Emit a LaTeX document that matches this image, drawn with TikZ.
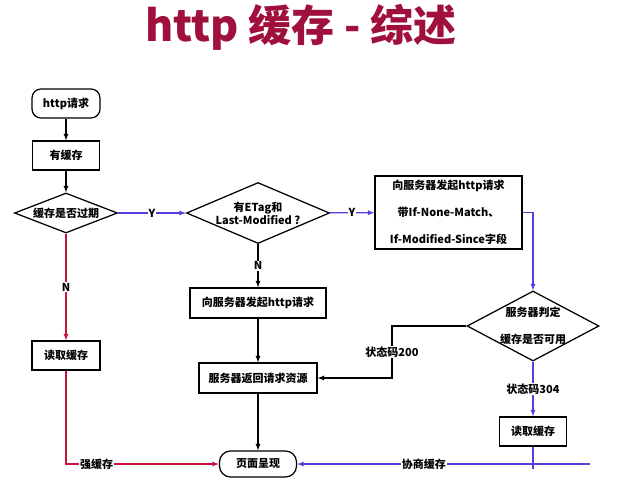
\documentclass[tikz,border=0pt]{standalone}
\usepackage{fontspec}
\setmainfont{Noto Sans CJK SC}
\usetikzlibrary{shapes.geometric}
\definecolor{titlered}{HTML}{A0103C}
\definecolor{strongred}{HTML}{C8143C}
\definecolor{negblue}{HTML}{5540DD}

\begin{document}
\begin{tikzpicture}[x=1pt, y=-1pt, line width=1.25pt,
    font=\fontsize{11}{13}\selectfont\bfseries,
    box/.style={draw, rectangle, fill=white, inner sep=0pt},
    term/.style={draw, rectangle, rounded corners=9pt, fill=white, inner sep=0pt},
    choice/.style={draw, diamond, fill=white, inner sep=0pt},
    lbl/.style={fill=white, text=black, inner sep=1pt}]
    \useasboundingbox (0,0) rectangle (629,490);
    \draw
    (301,27)node(title)[text=titlered, font=\fontsize{43}{43}\selectfont\bfseries]{http 缓存 - 综述}
    (66,103.5)node(req)[term, minimum width=68pt, minimum height=29pt]{http请求}
    (66,155.5)node(has)[box, minimum width=67pt, minimum height=29pt]{有缓存}
    (66,213)node(exp)[choice, aspect=2.6, minimum width=103pt, minimum height=40pt]{缓存是否过期}
    (66,355.5)node(read1)[box, minimum width=68pt, minimum height=29pt]{读取缓存}
    (258,213)node(etag)[choice, aspect=2.3, align=center, minimum width=143pt, minimum height=61pt]{有ETag和\\Last-Modified ?}
    (258,303)node(send)[box, minimum width=136pt, minimum height=30pt]{向服务器发起http请求}
    (258,378)node(ret)[box, minimum width=118pt, minimum height=30pt]{服务器返回请求资源}
    (258,464)node(page)[term, rounded corners=11pt, minimum width=77pt, minimum height=26pt]{页面呈现}
    (448.5,212.5)node(ask)[box, align=center, minimum width=147pt, minimum height=73pt]{向服务器发起http请求\\[14pt]带If-None-Match、\\[14pt]If-Modified-Since字段}
    (533,326)node(judge)[choice, aspect=1.9, inner sep=-4pt, align=center, minimum width=132pt, minimum height=70pt]{服务器判定\\[14pt]缓存是否可用}
    (533,431.5)node(read2)[box, minimum width=67pt, minimum height=29pt]{读取缓存};
    \coordinate (c200) at (392,326);
    \coordinate (tail) at (590,464);
    %
    \draw [-latex](req)--(has);
    \draw [-latex](has)--(exp);
    \draw [-latex, strongred](exp)--node[lbl]{N}(read1);
    \draw [-latex, strongred](read1)|-node[lbl, pos=0.6]{强缓存}(page);
    \draw [-latex, negblue](exp)--node[lbl]{Y}(etag);
    \draw [-latex](etag)--node[lbl]{N}(send);
    \draw [-latex](send)--(ret);
    \draw [-latex](ret)--(page);
    \draw [-latex, negblue](etag)--node[lbl]{Y}(ask);
    \draw [-latex, negblue](ask.east)-|(judge.north);
    \draw [-latex](judge.west)--(c200)|-node[lbl, pos=0.25]{状态码200}(ret);
    \draw [-latex, negblue](judge)--node[lbl]{状态码304}(read2);
    \draw [negblue](read2.south)--++(0,22);
    \draw [-latex, negblue](tail)--node[lbl, pos=0.567]{协商缓存}(page);
\end{tikzpicture}
\end{document}
